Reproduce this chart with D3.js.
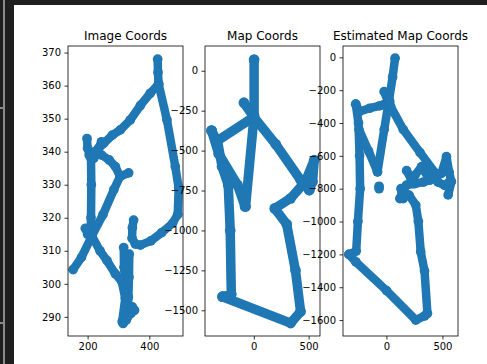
<!DOCTYPE html>
<html>
<head>
<meta charset="utf-8">
<script src="https://cdn.jsdelivr.net/npm/d3@7"></script>
<style>
  html, body { margin: 0; padding: 0; background: #1f1f1f; }
  svg { display: block; font-family: "DejaVu Sans", sans-serif; }
</style>
</head>
<body>
<svg id="chart" width="487" height="364"></svg>
<script>
// traced strokes, each one a list of [x, y] points
const imageStrokes = [
  [[153, 304.3], [180, 308], [214, 314.5], [250, 321], [285, 328.5], [305, 332.5], [333, 333.6]],
  [[305, 332.5], [290, 335.5], [270, 337.5], [245, 339], [225, 340]],
  [[198, 344], [200, 341], [211, 338], [212, 330], [211, 320], [210, 316]],
  [[205, 339], [220, 338], [235, 341], [245, 343]],
  [[225, 340], [252, 342.5], [280, 345], [306, 346.6], [338, 349.6], [371, 354], [403, 357.7], [430, 360.5]],
  [[430, 360.5], [428, 364], [427, 368]],
  [[430, 360.5], [457, 349.6], [484, 335.5], [495, 329], [492, 321], [475, 318.3], [440, 315.5], [405, 313], [371, 311.7], [355, 312], [344, 313.8], [345, 317], [349, 319.3]],
  [[214, 314.5], [240, 310], [263, 307], [290, 303], [311, 300.6], [322, 295.6], [312, 288.5]],
  [[317, 311], [318, 305], [322, 300], [328, 294], [325, 289], [315, 288]],
  [[335, 309], [334, 302], [332, 296], [330, 290], [322, 289]],
  [[345, 293], [352, 292], [340, 291]],
  [[192.5, 316.8], [200, 315]]
];

const mapStrokes = [
  [[3, 70], [3, -280], [-75, -850]],
  [[-90, -200], [0, -290]],
  [[0, -290], [-335, -440], [-385, -375]],
  [[-385, -375], [-320, -520], [-148, -715], [-80, -850]],
  [[-330, -440], [-290, -600], [-233, -715], [-215, -1000], [-205, -1400], [-285, -1415]],
  [[-285, -1415], [336, -1580], [427, -1508], [380, -1250], [300, -960], [191, -862], [336, -799], [470, -695], [551, -560], [536, -695], [506, -747], [470, -695]],
  [[0, -290], [200, -460], [427, -684], [506, -747]]
];

const estStrokes = [
  [[77, -5], [55, -120], [23, -260], [-20, -440], [-80, -697]],
  [[-21, -209], [20, -280]],
  [[-274, -285], [-240, -330], [-150, -310], [-60, -295], [30, -270]],
  [[-274, -285], [-250, -400], [-240, -600], [-235, -800], [-255, -1000], [-270, -1180], [-335, -1200]],
  [[-245, -440], [-160, -570], [-80, -697]],
  [[-66, -785], [-66, -800]],
  [[38, -300], [150, -440], [300, -580], [440, -707]],
  [[-335, -1200], [-274, -1245], [0, -1420], [262, -1600], [340, -1575], [366, -1560], [340, -1300], [306, -1184], [285, -1000], [262, -900], [202, -839], [143, -818], [120, -860]],
  [[143, -818], [179, -778], [250, -770], [330, -760], [387, -747], [491, -707], [536, -605], [560, -700], [580, -757], [551, -838]],
  [[180, -690], [220, -740], [253, -720], [313, -666], [387, -747]],
  [[400, -700], [460, -760], [520, -780], [560, -760]],
  [[130, -800], [150, -860], [170, -840]]
];

const imageXTicks = [200, 400];
const imageYTicks = [290, 300, 310, 320, 330, 340, 350, 360, 370];
const mapXTicks = [0, 500];
const mapYTicks = [0, -250, -500, -750, -1000, -1250, -1500];
const estXTicks = [0, 500];
const estYTicks = [0, -200, -400, -600, -800, -1000, -1200, -1400, -1600];

const panels = [
  { title: "Image Coords", strokes: imageStrokes, left: 68, xDom: [136.5, 509], yDom: [284.2, 372], xTicks: imageXTicks, yTicks: imageYTicks, w: 8.5 },
  { title: "Map Coords", strokes: mapStrokes, left: 205, xDom: [-445, 604], yDom: [-1661, 155], xTicks: mapXTicks, yTicks: mapYTicks, w: 9.5 },
  { title: "Estimated Map Coords", strokes: estStrokes, left: 343, xDom: [-388, 639], yDom: [-1697, 69], xTicks: estXTicks, yTicks: estYTicks, w: 8.5 }
];

const TOP = 46, BOTTOM = 336, PANEL_W = 115;
const BLUE = "#1f77b4";
const fmt = v => String(v).replace("-", "\u2212");

const svg = d3.select("#chart");

// dark notebook frame round the figure
svg.append("rect").attr("width", 487).attr("height", 364).attr("fill", "#1f1f1f");
svg.append("rect").attr("x", 3).attr("y", 0).attr("width", 2).attr("height", 364).attr("fill", "#8a8a8a");
svg.append("rect").attr("x", 0).attr("y", 107).attr("width", 4).attr("height", 2).attr("fill", "#8a8a8a");
svg.append("rect").attr("x", 0).attr("y", 322).attr("width", 4).attr("height", 2).attr("fill", "#8a8a8a");
svg.append("rect").attr("x", 14).attr("y", 5).attr("width", 473).attr("height", 359).attr("fill", "#ffffff");

panels.forEach(p => {
  const x = d3.scaleLinear().domain(p.xDom).range([p.left, p.left + PANEL_W]);
  const y = d3.scaleLinear().domain(p.yDom).range([BOTTOM, TOP]);
  const g = svg.append("g");

  const clipId = "clip-" + p.left;
  g.append("clipPath").attr("id", clipId)
    .append("rect")
    .attr("x", p.left).attr("y", TOP)
    .attr("width", PANEL_W).attr("height", BOTTOM - TOP);

  const line = d3.line().x(d => x(d[0])).y(d => y(d[1]));

  const marks = g.append("g").attr("clip-path", `url(#${clipId})`);
  marks.selectAll("path")
    .data(p.strokes)
    .enter()
    .append("path")
    .attr("d", line)
    .attr("fill", "none")
    .attr("stroke", BLUE)
    .attr("stroke-width", p.w)
    .attr("stroke-linecap", "round")
    .attr("stroke-linejoin", "round");

  marks.selectAll("circle")
    .data(p.strokes.flat())
    .enter()
    .append("circle")
    .attr("cx", d => x(d[0]))
    .attr("cy", d => y(d[1]))
    .attr("r", p.w / 2 + 0.6)
    .attr("fill", BLUE);

  const xAxis = g.append("g")
    .attr("transform", `translate(0,${BOTTOM})`)
    .call(d3.axisBottom(x).tickValues(p.xTicks).tickSize(3.5).tickPadding(3.5).tickFormat(fmt));

  const yAxis = g.append("g")
    .attr("transform", `translate(${p.left},0)`)
    .call(d3.axisLeft(y).tickValues(p.yTicks).tickSize(3.5).tickPadding(3.5).tickFormat(fmt));

  [xAxis, yAxis].forEach(a => {
    a.select(".domain").remove();
    a.selectAll("line").attr("stroke", "#000").attr("stroke-width", 0.8);
    a.selectAll("text").attr("fill", "#000").style("font-size", "10px")
      .style("font-family", "'DejaVu Sans', sans-serif");
  });

  g.append("rect")
    .attr("x", p.left).attr("y", TOP)
    .attr("width", PANEL_W).attr("height", BOTTOM - TOP)
    .attr("fill", "none").attr("stroke", "#000").attr("stroke-width", 0.8);

  g.append("text")
    .attr("x", p.left + PANEL_W / 2)
    .attr("y", TOP - 6)
    .attr("text-anchor", "middle")
    .attr("fill", "#000")
    .style("font-size", "12px")
    .text(p.title);
});
</script>
</body>
</html>
